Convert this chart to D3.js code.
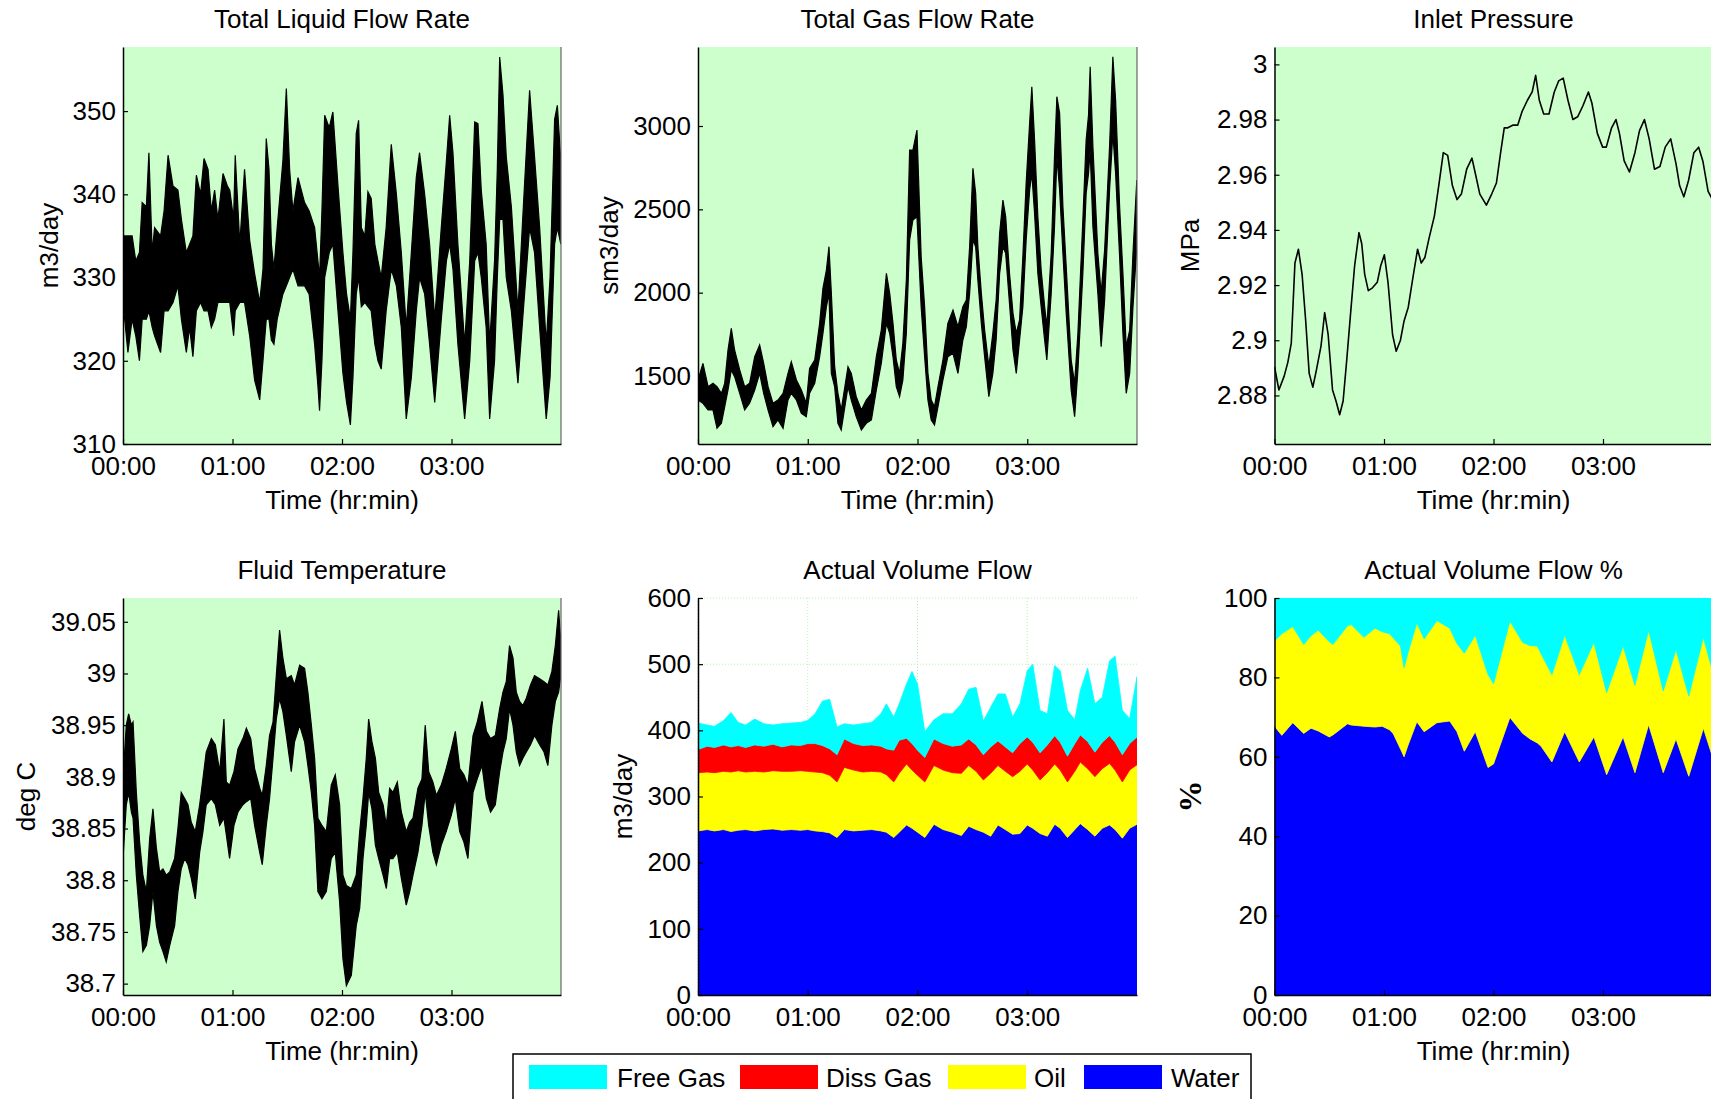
<!DOCTYPE html>
<html>
<head>
<meta charset="utf-8">
<script src="https://cdn.jsdelivr.net/npm/d3@7"></script>
<style>
html,body{margin:0;padding:0;overflow:hidden;background:#fff;}
svg{display:block;}
</style>
</head>
<body>
<script>
// ---------------- DATA ----------------
// time axis (minutes since 00:00)
const timeTicks = [0, 60, 120, 180];
const timeTickLabels = ["00:00", "01:00", "02:00", "03:00"];

// Panel 1: Total Liquid Flow Rate (m3/day) – envelope of noisy trace
const liqT = [0,2.7,5,7,9,10.5,12.8,14.2,16,17.3,20.6,22.5,24.7,27.4,30.1,32,34.7,36.5,38.3,40.2,42.5,44.4,46.6,48.4,50.2,52,54.8,57.2,58.5,60.6,61.5,64,66.6,69.4,72.1,74.9,76.7,78.5,80,81.3,82.7,84.5,87.6,89.5,91.3,93.1,95.9,99.5,102,105,106.8,107.7,109,110.5,113,115,117.8,120.5,122.5,124.6,126,127.8,129.1,130.6,132.5,134.2,136,138,139.7,141.5,144.2,147,149.8,152.5,155.2,158,160.7,162.5,165.3,168,170.8,174.4,177.2,179,180.8,183.5,187.2,190,192.7,194.5,196.3,199,200.9,203.6,205.1,206.4,208.2,210,212.8,216.4,219,222.8,225.5,228.3,231.9,234,236.5,238,239.9];
const liqLo = [327,321,325,323,320,325,325,326,324,323,321,326,326,327,329,325,321,324,320.5,326,327,326,326,324,325,327,327,327,327,323,326,327,327,323,317.7,315.3,320,325,325,322.5,322,325,328,329,330,331,329,329,328,322,317,314,320,330,333,334,326,318.5,315,312.3,318,328,330,326.5,327,326.5,326,322,320,319,326,331,329,324,313,318,326,330,328,322,315,325,332,334,331,322,313,320,332,333,330,324,313,320,330,337,337,330,326,317.3,325,336,333,324,313,318,334,336,334];
const liqHi = [335,335,335,332,333,339,338.5,345,333,336,335,338,344.7,341,340.5,337,333,334,335,342.3,340,344.3,343,338,340.5,337,342.5,341,340.5,337,344.7,334,343,334.5,330.5,327,331,346.7,343,334,331,336,344,352.7,343,338,342,339,338,336,332,330,338,349.5,348,349.9,341,333,328,325,333,347.3,348.9,336,335,340.3,339.5,334,332,330,336,346,340,333,324,333,342,345,340,334,325,336,344,349.5,345,334,322,332,348.7,348.5,340.5,334,322,332,343,356.5,352,344.5,338.5,326,337,352.5,344.5,336,322,330,349,350.7,344];
const liqTicks = [310, 320, 330, 340, 350];

// Panel 2: Total Gas Flow Rate (sm3/day)
const gasT = [0,2.7,5.5,8.2,10.4,12.8,14.6,16.4,18.2,20,22.8,25.5,28.2,31,33.7,35.9,38.3,41,43.7,46.5,49.2,51,53.8,56.5,59.2,61,63.8,66.5,68.3,70.2,71.6,72.9,74.7,76.5,78.3,82,83.8,86.5,89.3,92,94.8,97.5,100.2,103,104.8,106.6,108.4,110.2,112,113.9,115.7,117.5,119.7,122,123.9,125.7,127.5,129.3,131.2,133.9,136.6,139.4,142.1,144.8,146.7,148.5,150.3,151.8,153,154.9,156.7,159,161.2,163,164.9,166.7,168.2,170.3,172.2,174,175.8,177.6,179.4,181.3,182.5,184,185.8,187.6,189.5,190.7,193.1,194.9,196.2,197.7,199.5,201.3,204,205.9,207.7,210.4,212.2,213.5,214.4,215.9,218.6,220.4,222.3,225,226.8,228.3,230.5,232.3,234.1,236,237.8,239.9];
const gasHi = [1476,1576,1436,1456,1436,1396,1456,1656,1786,1656,1536,1436,1456,1616,1686,1576,1436,1336,1356,1396,1516,1586,1476,1416,1336,1546,1596,1816,2026,2136,2276,1996,1556,1396,1296,1556,1516,1376,1296,1356,1396,1616,1776,2116,1996,1816,1596,1516,1696,2076,2856,2856,2976,2216,1916,1516,1356,1316,1436,1596,1816,1896,1796,1916,1956,2276,2746,2596,2276,1996,1776,1556,1756,1956,2356,2556,2456,2116,1876,1756,1836,2216,2656,3016,3236,2916,2456,2136,1916,1796,2236,2816,3176,3076,2516,2156,1596,1456,1756,2436,2916,3066,3356,2876,2236,1996,2256,2876,3416,3156,2516,2116,1676,1776,2236,2676];
const gasLo = [1356,1336,1296,1296,1186,1216,1316,1416,1536,1496,1396,1296,1336,1416,1516,1396,1296,1196,1236,1186,1356,1396,1356,1276,1256,1396,1456,1616,1756,1916,1996,1516,1436,1216,1176,1436,1356,1256,1176,1216,1236,1416,1576,1816,1756,1616,1436,1376,1476,1756,2316,2436,2456,1916,1616,1356,1236,1206,1316,1476,1616,1636,1516,1716,1796,1996,2316,2276,2076,1816,1616,1376,1516,1716,2116,2276,2236,1936,1656,1516,1716,1916,2316,2616,2716,2476,2116,1916,1716,1596,1996,2396,2816,2616,2236,1876,1416,1256,1536,2116,2596,2716,2856,2396,1996,1676,1956,2616,2956,2716,2216,1756,1396,1516,1916,2276];
const gasTicks = [1500, 2000, 2500, 3000];

// Panel 3: Inlet Pressure (MPa)
const presT = [0,2.4,5.3,7.3,9.2,11.2,13.1,15.1,17.1,19,21,22.9,25.5,27.5,29.4,31.8,33.7,35.7,37.6,39.6,41.6,43.9,46.3,47.8,49.4,51.4,53.7,56.3,58.2,60.2,62.2,64.7,66.7,69,71,73.3,75.9,78.4,80.4,82.4,84.7,87.6,90.2,92.5,94.9,97.5,100,102.4,105.3,108.2,110.2,112.5,116.1,119,121.6,123.9,125.9,127.8,130.8,133.3,135.7,138.6,141.2,143.1,145.1,147.5,150.4,153.3,155.7,158.2,160.8,163.5,166.1,169,172,173.9,176.9,179.8,181.8,184.7,187.1,189,191.6,194.5,197.5,200,202.7,205.3,208.2,211.2,214.1,217.1,220,222,224.3,226.9,229.8,232.4,234.7,237.6,240];
const presV = [2.8904,2.882,2.887,2.892,2.899,2.928,2.933,2.924,2.907,2.888,2.883,2.889,2.898,2.910,2.902,2.882,2.878,2.873,2.878,2.893,2.909,2.927,2.939,2.935,2.924,2.918,2.919,2.921,2.927,2.931,2.921,2.902,2.896,2.900,2.907,2.912,2.923,2.933,2.928,2.930,2.937,2.945,2.957,2.968,2.967,2.956,2.951,2.953,2.962,2.966,2.960,2.953,2.949,2.953,2.957,2.968,2.977,2.977,2.978,2.978,2.983,2.987,2.990,2.996,2.987,2.982,2.982,2.990,2.994,2.995,2.987,2.980,2.981,2.985,2.990,2.986,2.975,2.970,2.970,2.977,2.980,2.975,2.965,2.961,2.968,2.976,2.980,2.973,2.962,2.963,2.970,2.973,2.964,2.956,2.952,2.958,2.968,2.970,2.965,2.954,2.951];
const presTicks = [2.88, 2.9, 2.92, 2.94, 2.96, 2.98, 3];
const presTickLabels = ["2.88", "2.9", "2.92", "2.94", "2.96", "2.98", "3"];

// Panel 4: Fluid Temperature (deg C)
const tempT = [0,1.8,3.1,4.6,5.5,7.3,9.1,10.9,12.8,14.6,16.4,18.3,20.1,21.9,23.7,25.6,28.3,30.1,31.9,33.8,35.6,37.4,39.6,42,43.8,45.6,48.4,50.6,53,55.3,56.6,58.4,60.8,63,65.7,67.6,70,72.1,74.9,76.3,78.5,80.3,82.2,84,85.8,87.6,89.5,92.2,94,96.8,99.5,101.3,103.2,105,106.8,109,111.4,114.1,116.3,118.7,120.5,122.4,125.1,127.8,129.7,131.5,133.3,134.6,136.4,138.3,140.1,142.5,144.3,146.1,147.9,150.3,152.5,155.2,157.1,158.9,161.6,163.8,165.6,167.5,169.8,171.7,174.4,177.1,179.9,182.1,184.5,186.8,189,191.8,194.1,196.7,199.1,201.4,204,206.4,208.2,210,211.8,213.7,215.5,217.3,219.1,221,223.3,225.5,228.3,230.7,232.8,235,236.9,238.7,239.9];
const tempHi = [38.898,38.950,38.961,38.950,38.953,38.885,38.837,38.805,38.789,38.840,38.869,38.831,38.808,38.811,38.805,38.808,38.821,38.850,38.885,38.879,38.873,38.856,38.847,38.873,38.898,38.924,38.937,38.931,38.905,38.956,38.895,38.892,38.905,38.927,38.937,38.947,38.937,38.908,38.889,38.882,38.911,38.940,38.953,38.998,39.042,39.015,38.995,38.998,38.989,39.008,39.005,38.982,38.950,38.918,38.860,38.853,38.847,38.892,38.902,38.873,38.805,38.795,38.792,38.805,38.847,38.879,38.918,38.956,38.934,38.918,38.885,38.873,38.853,38.889,38.885,38.895,38.866,38.847,38.856,38.860,38.889,38.898,38.950,38.905,38.895,38.882,38.892,38.908,38.927,38.944,38.908,38.902,38.892,38.940,38.953,38.973,38.944,38.937,38.940,38.966,38.982,38.992,39.027,39.015,38.982,38.973,38.969,38.976,38.989,38.998,38.995,38.992,38.989,39.002,39.027,39.061,39.031];
const tempLo = [38.821,38.873,38.885,38.866,38.860,38.805,38.766,38.731,38.737,38.756,38.789,38.756,38.740,38.731,38.721,38.737,38.756,38.789,38.811,38.821,38.815,38.802,38.782,38.827,38.847,38.873,38.879,38.873,38.853,38.860,38.844,38.821,38.853,38.866,38.873,38.876,38.879,38.853,38.827,38.815,38.853,38.879,38.918,38.956,38.976,38.963,38.940,38.905,38.934,38.950,38.934,38.911,38.885,38.853,38.789,38.782,38.789,38.821,38.827,38.779,38.724,38.698,38.708,38.756,38.773,38.821,38.853,38.885,38.869,38.834,38.821,38.805,38.792,38.821,38.821,38.827,38.802,38.776,38.789,38.805,38.827,38.853,38.885,38.853,38.827,38.815,38.834,38.847,38.863,38.879,38.847,38.837,38.821,38.885,38.898,38.911,38.879,38.866,38.873,38.905,38.924,38.937,38.966,38.950,38.924,38.911,38.918,38.924,38.931,38.940,38.931,38.924,38.911,38.950,38.973,38.982,38.998];
const tempTicks = [38.7, 38.75, 38.8, 38.85, 38.9, 38.95, 39, 39.05];
const tempTickLabels = ["38.7", "38.75", "38.8", "38.85", "38.9", "38.95", "39", "39.05"];

// Panel 5: Actual Volume Flow (m3/day), stacked
const flowT = [0,5,9,14,18,22,26,31,36,41,46,51,56,60,64,68,72,76,80,85,90,95,100,103,107,110,114,117,120,124,129,134,139,144,148,152,156,160,164,168,172,176,180,183,187,191,195,198,202,206,209,213,217,221,225,228,232,236,240];
const flowWater = [248,250,248,250,247,249,250,248,250,251,249,250,249,250,248,247,245,238,250,248,249,250,248,246,238,246,257,252,246,238,258,250,246,241,255,250,246,240,257,250,243,244,257,252,244,240,258,252,238,250,259,250,240,252,257,250,237,252,258];
const flowOil = [88,87,88,88,90,90,87,90,87,88,89,88,90,88,89,89,87,84,94,92,88,88,89,87,84,89,92,88,86,84,89,90,90,94,92,88,79,95,90,88,87,94,92,88,81,96,91,88,84,88,93,92,90,90,93,90,85,88,90];
const flowDissGas = [35,39,38,40,38,38,37,40,39,40,37,40,38,42,43,41,40,41,43,40,40,40,39,39,48,50,39,40,38,37,40,40,40,43,40,40,38,40,37,37,36,42,41,42,41,42,43,42,39,42,41,41,37,40,42,42,41,40,42];
const flowFreeGas = [40,32,32,37,52,35,34,39,34,29,35,33,35,35,45,67,75,42,23,28,33,34,49,68,50,55,82,109,100,39,29,45,49,62,75,87,51,60,71,80,54,60,100,118,64,47,106,108,69,36,67,111,73,68,113,130,67,38,91];
const flowTicks = [0, 100, 200, 300, 400, 500, 600];

// Panel 6: Actual Volume Flow % (stacked)
const pctT = [0,4,10,16,20,24,30,32,40,42,49,55,59,63,65,69,71,73,78,82,89,96,100,104,110,117,120,129,136,140,144,146,152,159,167,175,182,191,197.5,205,213,220,227,235,240];
const pctWater = [67.7,65.4,68.6,65.9,67.2,66.5,65,65.5,68.3,68,67.7,67.5,67.7,66.8,65.9,62,60,62.7,68.8,66.3,68.6,69,66.3,61.4,66.3,57.3,58.2,69.9,65.9,64.5,63.5,62.7,58.7,66.3,58.7,65,55.5,65,56,68.1,56,64.5,55.1,67.2,60];
const pctOil = [21.5,25.6,24.2,22.4,23.3,25.4,24,22.8,24.7,25.3,22.4,24.9,23.8,24.2,24.1,25.9,22.5,23.3,24.9,23.4,25.7,23.4,22.2,24.7,24.3,23.4,20.2,24.3,22.9,23.5,24.4,23.3,22,24.3,22,23.8,20.7,22.9,22,23.8,20.6,22.5,20.2,22.9,21.6];
const pctFreeGas = [10.8,9,7.2,11.7,9.5,8.1,11,11.7,7,6.7,9.9,7.6,8.5,9,10,12.1,17.5,14,6.3,10.3,5.7,7.6,11.5,13.9,9.4,19.3,21.6,5.8,11.2,12,12.1,14,19.3,9.4,19.3,11.2,23.8,12.1,22,8.1,23.4,13,24.7,9.9,18.4];
const pctTicks = [0, 20, 40, 60, 80, 100];

// Legend
const legendLabels = ["Free Gas", "Diss Gas", "Oil", "Water"];
const legendColors = ["#00ffff", "#ff0000", "#ffff00", "#0000ff"];

// ---------------- DRAWING ----------------
const W = 1711, H = 1099;
const FONT = "'Liberation Sans', Arial, Helvetica, sans-serif";
const FS = 26;
const GREEN = "#ccffcc";
const svg = d3.select("body").append("svg").attr("width", W).attr("height", H);

let clipId = 0;
function setupPanel(p) {
  const x = d3.scaleLinear().domain([0, 240]).range([p.left, p.left + p.w]);
  const y = d3.scaleLinear().domain(p.yDomain).range([p.top + p.h, p.top]);
  const id = "clip" + (clipId++);
  svg.append("clipPath").attr("id", id).append("rect")
    .attr("x", p.left).attr("y", p.top).attr("width", p.w).attr("height", p.h);
  svg.append("rect").attr("x", p.left).attr("y", p.top).attr("width", p.w).attr("height", p.h)
    .attr("fill", p.bg);
  const g = svg.append("g").attr("clip-path", `url(#${id})`);
  return {x, y, g};
}

function finishPanel(p, x, y) {
  if (p.rightBorder) {
    svg.append("line").attr("x1", p.left + p.w).attr("x2", p.left + p.w)
      .attr("y1", p.top).attr("y2", p.top + p.h).attr("stroke", "#666").attr("stroke-width", 1.2);
  }
  const gy = svg.append("g").attr("transform", `translate(${p.left},0)`)
    .call(d3.axisLeft(y).tickValues(p.yTicks).tickFormat((d, i) => p.yLabels[i])
      .tickSize(-5).tickSizeOuter(0).tickPadding(7));
  const gx = svg.append("g").attr("transform", `translate(0,${p.top + p.h})`)
    .call(d3.axisBottom(x).tickValues(timeTicks).tickFormat((d, i) => timeTickLabels[i])
      .tickSize(-5).tickSizeOuter(0).tickPadding(13));
  [gx, gy].forEach(a => {
    a.attr("font-family", FONT).attr("font-size", FS);
    a.select(".domain").attr("stroke", "#000").attr("stroke-width", 1.5);
    a.selectAll(".tick line").attr("stroke", "#000").attr("stroke-width", 1.2);
    a.selectAll(".tick text").attr("fill", "#000");
  });
  // title
  svg.append("text").attr("x", p.left + p.w / 2).attr("y", p.titleY)
    .attr("text-anchor", "middle").attr("font-family", FONT).attr("font-size", FS)
    .text(p.title);
  // y label
  svg.append("text")
    .attr("transform", `translate(${p.ylabelX},${p.top + p.h / 2}) rotate(-90)`)
    .attr("dy", "0.35em").attr("text-anchor", "middle")
    .attr("font-family", p.ylabelFont || FONT).attr("font-size", p.ylabelSize || FS)
    .attr("font-weight", p.ylabelWeight || "normal")
    .text(p.ylabel);
  if (p.xlabel) {
    svg.append("text").attr("x", p.left + p.w / 2).attr("y", p.top + p.h + 65)
      .attr("text-anchor", "middle").attr("font-family", FONT).attr("font-size", FS)
      .text("Time (hr:min)");
  }
}

function bandPanel(p, T, lo, hi) {
  const {x, y, g} = setupPanel(p);
  const rows = T.map((t, i) => ({t, lo: lo[i], hi: hi[i]}));
  const area = d3.area().x(d => x(d.t)).y0(d => y(d.lo)).y1(d => y(d.hi));
  g.append("path").datum(rows).attr("d", area)
    .attr("fill", "#000").attr("stroke", "#000").attr("stroke-width", 1.2).attr("stroke-linejoin", "miter");
  finishPanel(p, x, y);
}

const row1Top = 47, row2Top = 598, PH = 397;

// Panel 1
bandPanel({left: 123, top: row1Top, w: 438, h: PH, yDomain: [310, 357.7], yTicks: liqTicks,
  yLabels: liqTicks.map(String), bg: GREEN, title: "Total Liquid Flow Rate", titleY: 28,
  ylabel: "m3/day", ylabelX: 49, xlabel: true, rightBorder: true}, liqT, liqLo, liqHi);

// Panel 2
bandPanel({left: 698, top: row1Top, w: 439, h: PH, yDomain: [1092, 3474], yTicks: gasTicks,
  yLabels: gasTicks.map(String), bg: GREEN, title: "Total Gas Flow Rate", titleY: 28,
  ylabel: "sm3/day", ylabelX: 609, xlabel: true, rightBorder: true}, gasT, gasLo, gasHi);

// Panel 3
(function () {
  const p = {left: 1274.5, top: row1Top, w: 438, h: PH, yDomain: [2.8624, 3.0063], yTicks: presTicks,
    yLabels: presTickLabels, bg: GREEN, title: "Inlet Pressure", titleY: 28,
    ylabel: "MPa", ylabelX: 1190, xlabel: true, rightBorder: true};
  const {x, y, g} = setupPanel(p);
  const line = d3.line().x((d, i) => x(presT[i])).y(d => y(d));
  g.append("path").datum(presV).attr("d", line).attr("fill", "none")
    .attr("stroke", "#000").attr("stroke-width", 1.6).attr("stroke-linejoin", "round");
  finishPanel(p, x, y);
})();

// Panel 4
bandPanel({left: 123, top: row2Top, w: 438, h: PH, yDomain: [38.689, 39.073], yTicks: tempTicks,
  yLabels: tempTickLabels, bg: GREEN, title: "Fluid Temperature", titleY: 579,
  ylabel: "deg C", ylabelX: 26, xlabel: true, rightBorder: true}, tempT, tempLo, tempHi);

// Panel 5
(function () {
  const p = {left: 698, top: row2Top, w: 439, h: PH, yDomain: [0, 600], yTicks: flowTicks,
    yLabels: flowTicks.map(String), bg: "#fff", title: "Actual Volume Flow", titleY: 579,
    ylabel: "m3/day", ylabelX: 623, xlabel: false, rightBorder: false};
  const {x, y, g} = setupPanel(p);
  // grid
  const grid = svg.append("g");
  flowTicks.forEach(v => grid.append("line").attr("x1", p.left).attr("x2", p.left + p.w)
    .attr("y1", y(v)).attr("y2", y(v)).attr("stroke", "#b5efb5").attr("stroke-dasharray", "1,2"));
  timeTicks.forEach(v => grid.append("line").attr("x1", x(v)).attr("x2", x(v))
    .attr("y1", p.top).attr("y2", p.top + p.h).attr("stroke", "#b5efb5").attr("stroke-dasharray", "1,2"));
  const rows = flowT.map((t, i) => ({t, water: flowWater[i], oil: flowOil[i], diss: flowDissGas[i], free: flowFreeGas[i]}));
  const keys = ["water", "oil", "diss", "free"];
  const cols = {water: "#0000ff", oil: "#ffff00", diss: "#ff0000", free: "#00ffff"};
  const stacked = d3.stack().keys(keys)(rows);
  const area = d3.area().x(d => x(d.data.t)).y0(d => y(d[0])).y1(d => y(d[1]));
  const ga = svg.append("g").attr("clip-path", `url(#clip${clipId - 1})`);
  stacked.forEach(s => ga.append("path").datum(s).attr("d", area).attr("fill", cols[s.key])
    .attr("stroke", cols[s.key]).attr("stroke-width", 0.8));
  finishPanel(p, x, y);
})();

// Panel 6
(function () {
  const p = {left: 1274.5, top: row2Top, w: 438, h: PH, yDomain: [0, 100], yTicks: pctTicks,
    yLabels: pctTicks.map(String), bg: "#fff", title: "Actual Volume Flow %", titleY: 579,
    ylabel: "%", ylabelX: 1190, ylabelFont: "'Liberation Serif', 'Times New Roman', serif",
    ylabelSize: 32, ylabelWeight: "bold", xlabel: true, rightBorder: false};
  const {x, y, g} = setupPanel(p);
  const rows = pctT.map((t, i) => ({t, water: pctWater[i], oil: pctOil[i], free: pctFreeGas[i]}));
  const keys = ["water", "oil", "free"];
  const cols = {water: "#0000ff", oil: "#ffff00", free: "#00ffff"};
  const stacked = d3.stack().keys(keys)(rows);
  const area = d3.area().x(d => x(d.data.t)).y0(d => y(d[0])).y1(d => y(d[1]));
  stacked.forEach(s => g.append("path").datum(s).attr("d", area).attr("fill", cols[s.key])
    .attr("stroke", cols[s.key]).attr("stroke-width", 0.8));
  finishPanel(p, x, y);
})();

// Legend
(function () {
  const lg = svg.append("g");
  lg.append("rect").attr("x", 513).attr("y", 1054).attr("width", 738).attr("height", 70)
    .attr("fill", "#fff").attr("stroke", "#000").attr("stroke-width", 1.5);
  const swX = [529, 740, 948, 1084];
  const txX = [617, 826, 1034, 1171];
  legendLabels.forEach((lab, i) => {
    lg.append("rect").attr("x", swX[i]).attr("y", 1065).attr("width", 78).attr("height", 24)
      .attr("fill", legendColors[i]);
    lg.append("text").attr("x", txX[i]).attr("y", 1087).attr("font-family", FONT)
      .attr("font-size", FS).text(lab);
  });
})();
</script>
</body>
</html>
